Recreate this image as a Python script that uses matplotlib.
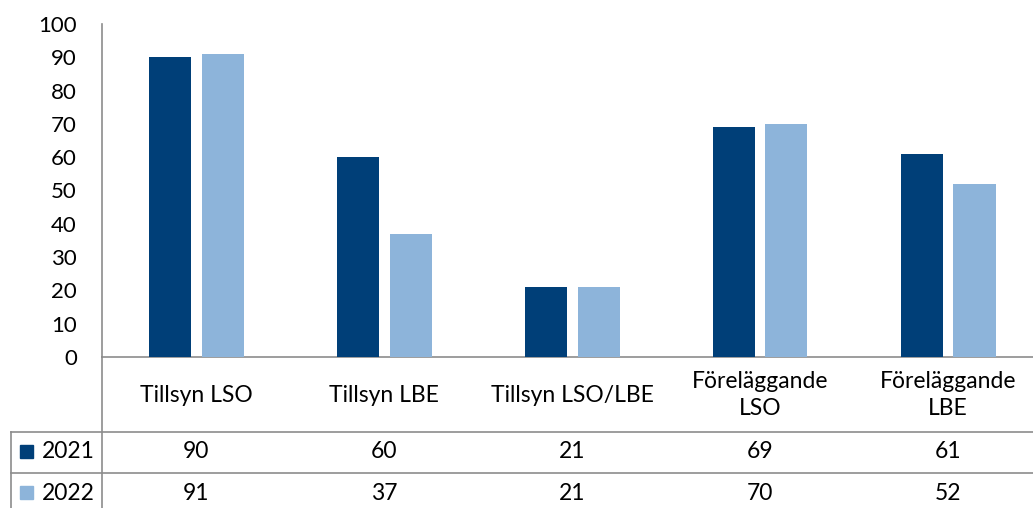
import matplotlib
matplotlib.use("Agg")
import matplotlib.pyplot as plt
from matplotlib.lines import Line2D
from matplotlib.patches import Rectangle
import numpy as np

categories = ["Tillsyn LSO", "Tillsyn LBE", "Tillsyn LSO/LBE", "Föreläggande\nLSO", "Föreläggande\nLBE"]
series_names = ["2021", "2022"]
values_2021 = [90, 60, 21, 69, 61]
values_2022 = [91, 37, 21, 70, 52]
colors = ["#003F78", "#8DB4DA"]
yticks = list(range(0, 101, 10))

W, H = 1033, 508
plt.rcParams['font.family'] = ['Lato', 'DejaVu Sans']
fig = plt.figure(figsize=(W / 100, H / 100), dpi=100)

def fx(px):
    return px / W

def fy(py):
    return 1 - py / H

ax_left, ax_right, ax_top, ax_bottom = 102, 1042, 24, 357
ax = fig.add_axes([fx(ax_left), fy(ax_bottom), fx(ax_right - ax_left), fy(ax_top) - fy(ax_bottom)])

x = np.arange(len(categories))
bw = 42 / 188
off = 26.5 / 188
ax.bar(x - off, values_2021, width=bw, color=colors[0], zorder=3)
ax.bar(x + off, values_2022, width=bw, color=colors[1], zorder=3)

ax.set_xlim(-0.5, len(categories) - 0.5)
ax.set_ylim(0, 100)
ax.set_yticks(yticks)
ax.set_yticklabels([str(t) for t in yticks], fontsize=16)
ax.tick_params(axis='y', length=0, pad=18)
ax.set_xticks(x)
ax.set_xticklabels([])
ax.tick_params(axis='x', length=0)

for s in ['top', 'right']:
    ax.spines[s].set_visible(False)
grey = "#8C8C8C"
ax.spines['left'].set_color(grey)
ax.spines['bottom'].set_color(grey)
ax.spines['left'].set_linewidth(1.2)
ax.spines['bottom'].set_linewidth(1.2)

trans_lbl = ax.get_xaxis_transform()

def ay(py):
    return (fy(py) - fy(ax_bottom)) / (fy(ax_top) - fy(ax_bottom))

for xi, cat in zip(x, categories):
    ax.text(xi, ay(395), cat, transform=trans_lbl, ha='center', va='center',
            fontsize=16.5, linespacing=1.35, clip_on=False)

# table lines
lw = 1.2
fig.add_artist(Line2D([fx(ax_left), fx(ax_left)], [fy(ax_bottom), fy(H)], color=grey, lw=lw))
fig.add_artist(Line2D([fx(11), 1], [fy(432), fy(432)], color=grey, lw=lw))
fig.add_artist(Line2D([fx(11), 1], [fy(473), fy(473)], color=grey, lw=lw))
fig.add_artist(Line2D([fx(11), fx(11)], [fy(432), fy(H)], color=grey, lw=lw))

# table contents
row_y = [452, 493]
for r, (name, vals, col) in enumerate(zip(series_names, [values_2021, values_2022], colors)):
    yy = row_y[r]
    fig.add_artist(Rectangle((fx(20), fy(yy + 6)), fx(13), fy(yy - 7) - fy(yy + 6), color=col))
    fig.text(fx(42), fy(yy), name, ha='left', va='center', fontsize=16.5)
    for xi, v in zip(x, vals):
        ax.text(xi, ay(yy), str(v), transform=trans_lbl, ha='center', va='center',
                fontsize=16.5, clip_on=False)

fig.savefig("out.png", dpi=100)
